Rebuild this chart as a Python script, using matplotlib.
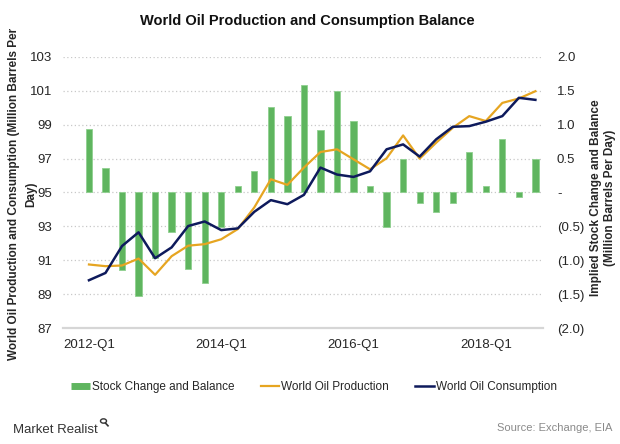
import matplotlib
matplotlib.use("Agg")
import matplotlib.pyplot as plt
from matplotlib.lines import Line2D
from matplotlib.patches import Circle
import numpy as np

plt.rcParams['font.family'] = ['Liberation Sans', 'DejaVu Sans']

quarters = [f"{y}-Q{q}" for y in range(2012, 2019) for q in range(1, 5)]
stock_change = [0.93, 0.36, -1.14, -1.53, -0.97, -0.58, -1.13, -1.33,
                -0.51, 0.09, 0.32, 1.26, 1.13, 1.59, 0.92, 1.50,
                1.05, 0.09, -0.51, 0.50, -0.15, -0.29, -0.15, 0.60,
                0.10, 0.79, -0.06, 0.50]
production = [90.75, 90.65, 90.69, 91.10, 90.14, 91.24, 91.86, 91.95,
              92.24, 92.84, 94.12, 95.78, 95.45, 96.47, 97.39, 97.55,
              96.96, 96.37, 97.02, 98.37, 97.00, 97.94, 98.82, 99.51,
              99.22, 100.29, 100.55, 100.98]
consumption = [89.82, 90.25, 91.84, 92.65, 91.12, 91.76, 93.02, 93.29,
               92.78, 92.88, 93.86, 94.55, 94.31, 94.86, 96.47, 96.06,
               95.92, 96.25, 97.55, 97.84, 97.12, 98.14, 98.88, 98.92,
               99.18, 99.51, 100.59, 100.47]
left_ticks = [87, 89, 91, 93, 95, 97, 99, 101, 103]
right_ticks = [-2.0, -1.5, -1.0, -0.5, 0.0, 0.5, 1.0, 1.5, 2.0]
right_labels = ["(2.0)", "(1.5)", "(1.0)", "(0.5)", "-", "0.5", "1.0", "1.5", "2.0"]
xtick_idx = [0, 8, 16, 24]

GREEN = '#5fb55f'
ORANGE = '#e6a521'
NAVY = '#0e1a5c'

W, H = 620, 444
fig = plt.figure(figsize=(W / 100, H / 100), dpi=100)
L, R, T, B = 63, 543, 57, 328
axL = fig.add_axes([L / W, (H - B) / H, (R - L) / W, (B - T) / H])
axR = axL.twinx()
axL.set_zorder(axR.get_zorder() + 1)
axL.patch.set_visible(False)

x = np.arange(len(quarters))
axR.bar(x, stock_change, width=0.38, color=GREEN, edgecolor='#8fd08f',
        linewidth=0.6, zorder=3)
axR.set_ylim(-2, 2)
axR.set_yticks(right_ticks)
axR.set_yticklabels(right_labels)
for yv in right_ticks[1:]:
    axR.axhline(yv, color='#c8c8c8', linestyle=(0, (1, 2)), linewidth=0.9, zorder=1)

axL.plot(x, production, color=ORANGE, linewidth=1.6, zorder=4)
axL.plot(x, consumption, color=NAVY, linewidth=1.8, zorder=5)
axL.set_ylim(87, 103)
axL.set_yticks(left_ticks)
axL.set_xlim(-1.57, 27.46)
axL.set_xticks(xtick_idx)
axL.set_xticklabels([quarters[i] for i in xtick_idx])

for ax in (axL, axR):
    for s in ax.spines.values():
        s.set_visible(False)
axL.spines['bottom'].set_visible(True)
axL.spines['bottom'].set_color('#d6d6d6')
axL.spines['bottom'].set_linewidth(1.6)

axL.tick_params(axis='y', length=0, pad=8, labelsize=9.5, colors='#262626')
axR.tick_params(axis='y', length=0, pad=10, labelsize=9.5, colors='#262626')
axL.tick_params(axis='x', length=0, pad=8, labelsize=9.5, colors='#262626')

fig.text(307 / W, 1 - 21 / H, "World Oil Production and Consumption Balance",
         ha='center', va='center', fontsize=10.5, fontweight='bold', color='#111111')

fig.text(14 / W, 1 - 194 / H,
         "World Oil Production and Consumption (Million Barrels Per",
         rotation=90, ha='center', va='center',
         fontsize=8.5, fontweight='bold', color='#262626')
fig.text(31 / W, 1 - 194 / H, "Day)",
         rotation=90, ha='center', va='center',
         fontsize=8.5, fontweight='bold', color='#262626')
fig.text(603 / W, 1 - 198 / H,
         "Implied Stock Change and Balance\n(Million Barrels Per Day)",
         rotation=90, ha='center', va='center', multialignment='center',
         fontsize=8.5, fontweight='bold', color='#262626', linespacing=1.15)

handles = [Line2D([], [], color=GREEN, linewidth=5, solid_capstyle='butt'),
           Line2D([], [], color=ORANGE, linewidth=1.6),
           Line2D([], [], color=NAVY, linewidth=1.8)]
labels = ["Stock Change and Balance", "World Oil Production", "World Oil Consumption"]
fig.legend(handles, labels, loc='center', bbox_to_anchor=(314 / W, 1 - 387 / H),
           ncol=3, frameon=False, fontsize=8.5, handlelength=1.6,
           handletextpad=0.15, columnspacing=2.2, labelcolor='#262626')

fig.text(13 / W, 1 - 430 / H, "Market Realist", ha='left', va='center',
         fontsize=9.5, color='#333333')
# small magnifier icon next to the brand name
fig.add_artist(Circle((103.5 / W, 1 - 421 / H), 3.0 / W, transform=fig.transFigure,
                      fill=False, edgecolor='#333333', linewidth=1.0))
fig.add_artist(Line2D([105.6 / W, 108.0 / W], [1 - 423.2 / H, 1 - 425.8 / H],
                      transform=fig.transFigure, color='#333333', linewidth=1.2))
fig.text(612 / W, 1 - 428 / H, "Source: Exchange, EIA", ha='right', va='center',
         fontsize=8, color='#8a8a8a')

fig.savefig("out.png", dpi=100)
